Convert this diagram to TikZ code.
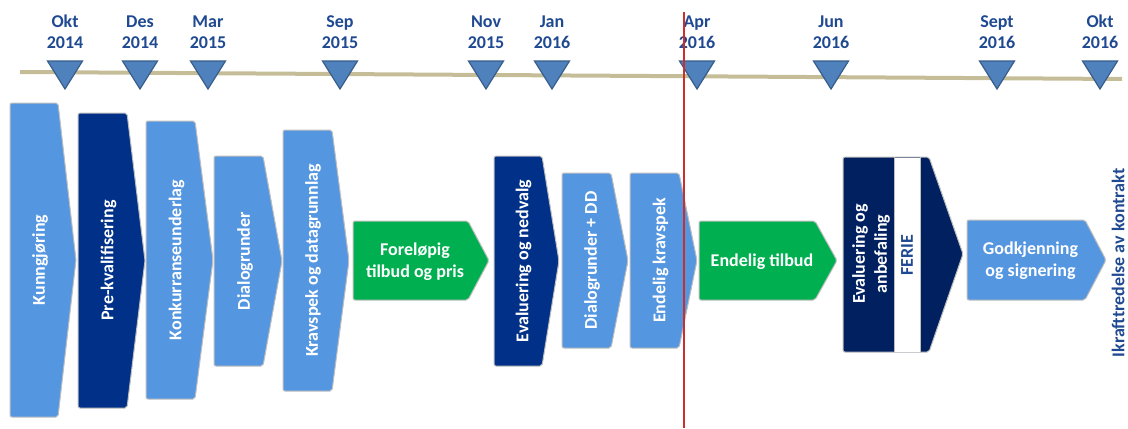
\documentclass[tikz,border=0pt]{standalone}
\usepackage{fontspec}
\setmainfont{Carlito}
\usepackage{xcolor}
\usetikzlibrary{calc}

\definecolor{lightblue}{RGB}{85,150,225}
\definecolor{navy}{RGB}{0,48,135}
\definecolor{darknavy}{RGB}{0,32,96}
\definecolor{phasegreen}{RGB}{0,176,80}
\definecolor{boxborder}{RGB}{190,190,190}
\definecolor{datecolor}{RGB}{31,73,145}
\definecolor{tribluefill}{RGB}{79,129,189}
\definecolor{tribluedraw}{RGB}{56,93,138}
\definecolor{tan}{RGB}{196,189,151}
\definecolor{nowred}{RGB}{204,45,45}

\tikzset{
    phase/.style={draw=boxborder, line width=0.5pt, rounded corners=1pt},
    phasetext/.style={text=white, font=\bfseries\fontsize{9}{11}\selectfont, align=center, inner sep=0pt},
    milestone/.style={fill=tribluefill, draw=tribluedraw, line width=0.6pt},
    datelabel/.style={text=datecolor, font=\bfseries\fontsize{9}{10.5}\selectfont, align=center, inner sep=0pt}
}

\begin{document}
\begin{tikzpicture}[x=0.5pt, y=-0.5pt]
        \useasboundingbox (0,0) rectangle (1128,428);

        \coordinate (linestart) at (20,72);
        \coordinate (lineend) at (1122,79);
        \draw[line width=2pt, tan] (linestart) -- (lineend);

        \foreach \x/\mon/\yr [count=\i] in {65/Okt/2014, 140/Des/2014, 208/Mar/2015, 340/Sep/2015, 486/Nov/2015, 552/Jan/2016, 697/Apr/2016, 831/Jun/2016, 997/Sept/2016, 1100/Okt/2016} {
            \filldraw[milestone] (\x-17.5,61) -- (\x+17.5,61) -- (\x,89) -- cycle;
            \node[datelabel] (date\i) at (\x,32) {\mon\\\yr};
        }

        \foreach \l/\t/\r/\p/\b/\c/\txt [count=\i] in {10/103/58/76/417/lightblue/Kunngjøring, 78/113/127/145/408/navy/Pre-kvalifisering, 146/121/195/213/399/lightblue/Konkurranseunderlag, 214/156/263/282/366/lightblue/Dialogrunder, 283/130/332/349/391/lightblue/Kravspek og datagrunnlag, 494/156/542/559/366/navy/Evaluering og nedvalg, 562/173/611/628/348/lightblue/Dialogrunder + DD, 630/173/679/697/348/lightblue/Endelig kravspek} {
            \filldraw[phase, fill=\c] (\l,\t) -- (\r,\t) -- (\p,{(\t+\b)/2}) -- (\r,\b) -- (\l,\b) -- cycle;
            \node[phasetext, rotate=90] (vphase\i) at ({(\l+\p)/2-3},{(\t+\b)/2}) {\txt};
        }

        \foreach \l/\t/\r/\p/\b/\c/\txt [count=\i] in {353/221/468/489/300/phasegreen/{Foreløpig\\tilbud og pris}, 699/221/815/837/300/phasegreen/{Endelig tilbud}, 967/220/1085/1106/300/lightblue/{Godkjenning\\og signering}} {
            \filldraw[phase, fill=\c] (\l,\t) -- (\r,\t) -- (\p,{(\t+\b)/2}) -- (\r,\b) -- (\l,\b) -- cycle;
            \node[phasetext] (hphase\i) at ({(\l+\p)/2-6},{(\t+\b)/2+1}) {\txt};
        }

        \filldraw[phase, fill=darknavy] (843,157) -- (929,157) -- (963,254) -- (929,352) -- (843,352) -- cycle;
        \fill[white] (894,157.5) rectangle (920,351.5);
        \draw[boxborder, line width=0.5pt] (894,157) -- (894,352) (920,157) -- (920,352);
        \node[phasetext, rotate=90] (evalanbef) at (871,254) {Evaluering og\\anbefaling};
        \node[datelabel, rotate=90] (ferie) at (907,255) {FERIE};

        \node[datelabel, rotate=90] (ikraft) at (1118,263) {Ikrafttredelse av kontrakt};

        \coordinate (nowtop) at (684,12);
        \coordinate (nowbottom) at (684,428);
        \draw[nowred, line width=1pt] (nowtop) -- (nowbottom);

\end{tikzpicture}
\end{document}
